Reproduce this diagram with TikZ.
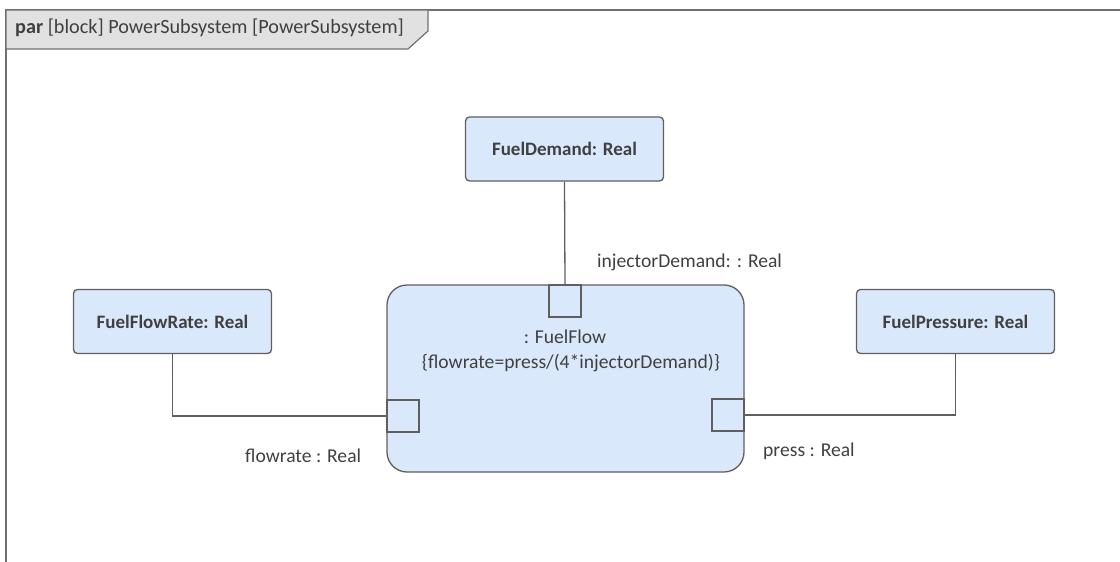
\documentclass[tikz,border=0pt]{standalone}
\usepackage{fontspec}
\setmainfont{Carlito}
\definecolor{boxfill}{HTML}{DAE8FC}
\definecolor{boxline}{HTML}{5F5F5F}
\definecolor{txt}{HTML}{404040}
\definecolor{tabfill}{HTML}{E1E1E1}
\definecolor{frameline}{HTML}{707070}
\begin{document}
\begin{tikzpicture}[x=1pt,y=-1pt,
  valbox/.style={draw=boxline,line width=1.3pt,fill=boxfill,rounded corners=4pt,
    minimum width=198pt,minimum height=64pt,inner sep=0pt,
    font=\fontsize{19}{22}\selectfont\bfseries,text=txt},
  blk/.style={draw=boxline,line width=1.3pt,fill=boxfill,rounded corners=20pt},
  port/.style={draw=boxline,line width=1.3pt,fill=boxfill,minimum size=32pt,inner sep=0pt},
  conn/.style={draw=boxline,line width=1.3pt},
  lbl/.style={font=\fontsize{19.6}{23}\selectfont,text=txt,inner sep=0pt}]
\useasboundingbox (0,0) rectangle (1120,562);
% frame
\draw[frameline,line width=1.5pt] (6,562) -- (6,10) -- (1121,10);
\path[fill=tabfill,draw=frameline,line width=1.2pt] (6,10) -- (428,10) -- (428,31) -- (408,49) -- (6,49) -- cycle;
\node[lbl,anchor=west,font=\fontsize{20.2}{23}\selectfont] (title) at (15,28) {\textbf{par} [block] PowerSubsystem [PowerSubsystem]};
% value boxes
\node[valbox] (demand) at (564.5,149) {FuelDemand: Real};
\node[valbox] (rate) at (172.5,321.5) {FuelFlowRate: Real};
\node[valbox] (pressure) at (955.5,321.5) {FuelPressure: Real};
% block
\draw[blk] (387,285) rectangle (744,472);
\node[minimum width=357pt,minimum height=187pt,inner sep=0pt] (flow) at (565.5,378.5) {};
\node[lbl] (flowname) at (565,337) {: FuelFlow};
\node[lbl] (flowcons) at (571,363) {\{flowrate=press/(4*injectorDemand)\}};
% ports
\node[port] (ptop) at (565,301) {};
\node[port] (pleft) at (403,416) {};
\node[port] (pright) at (728,415) {};
% connectors
\draw[conn] (demand.south) -- (ptop.north);
\draw[conn] (rate.south) |- (pleft.west);
\draw[conn] (pressure.south) |- (pright.east);
% labels
\node[lbl,anchor=west] (ldemand) at (597,262) {injectorDemand: : Real};
\node[lbl,anchor=west] (lrate) at (245,456) {flowrate : Real};
\node[lbl,anchor=west] (lpress) at (763,451) {press : Real};
\end{tikzpicture}
\end{document}
